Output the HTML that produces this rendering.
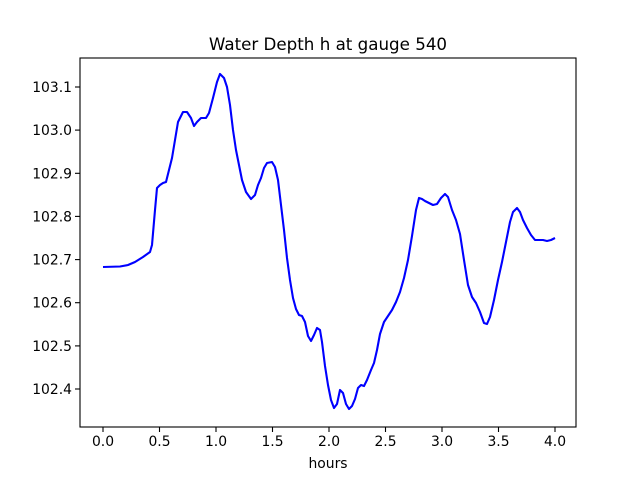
<!DOCTYPE html>
<html><head><meta charset="utf-8"><style>body{margin:0;background:#fff}</style></head><body>
<svg width="640" height="480" xmlns="http://www.w3.org/2000/svg" font-family="'DejaVu Sans', 'Liberation Sans', sans-serif">
<rect width="640" height="480" fill="#fff"/>
<rect x="80" y="58" width="496" height="369" fill="none" stroke="#000" stroke-width="1.1"/>
<g stroke="#000" stroke-width="1.1">
<line x1="103" y1="427" x2="103" y2="432"/><line x1="159.5" y1="427" x2="159.5" y2="432"/>
<line x1="216" y1="427" x2="216" y2="432"/><line x1="272.5" y1="427" x2="272.5" y2="432"/>
<line x1="329" y1="427" x2="329" y2="432"/><line x1="385.5" y1="427" x2="385.5" y2="432"/>
<line x1="442" y1="427" x2="442" y2="432"/><line x1="498.5" y1="427" x2="498.5" y2="432"/>
<line x1="555" y1="427" x2="555" y2="432"/>
<line x1="75" y1="389" x2="80" y2="389"/><line x1="75" y1="345.9" x2="80" y2="345.9"/>
<line x1="75" y1="302.7" x2="80" y2="302.7"/><line x1="75" y1="259.6" x2="80" y2="259.6"/>
<line x1="75" y1="216.4" x2="80" y2="216.4"/><line x1="75" y1="173.3" x2="80" y2="173.3"/>
<line x1="75" y1="130.1" x2="80" y2="130.1"/><line x1="75" y1="87" x2="80" y2="87"/>
</g>
<g font-size="13.9" fill="#000" text-anchor="middle">
<text x="103" y="446">0.0</text><text x="159.5" y="446">0.5</text><text x="216" y="446">1.0</text>
<text x="272.5" y="446">1.5</text><text x="329" y="446">2.0</text><text x="385.5" y="446">2.5</text>
<text x="442" y="446">3.0</text><text x="498.5" y="446">3.5</text><text x="555" y="446">4.0</text>
</g>
<g font-size="13.9" fill="#000" text-anchor="end">
<text x="72" y="394">102.4</text><text x="72" y="350.9">102.5</text><text x="72" y="307.7">102.6</text>
<text x="72" y="264.6">102.7</text><text x="72" y="221.4">102.8</text><text x="72" y="178.3">102.9</text>
<text x="72" y="135.1">103.0</text><text x="72" y="92">103.1</text>
</g>
<text x="328" y="468" font-size="13.9" text-anchor="middle">hours</text>
<text x="328" y="50" font-size="16.7" text-anchor="middle">Water Depth h at gauge 540</text>
<polyline fill="none" stroke="#0000ff" stroke-width="2.1" stroke-linejoin="round" points="103,267 120,266.5 128,265 135,262 143,257 150,252 152,245 155,210 157,188 160,185 163,183 166,182 169,170 172,158 175,140 178,122 183,112 187,112 191,118 194,126 197,122 201,118 206,118 209,113 213,98 217,82 220,74 224,78 227,87 230,105 233,130 236,150 239,165 242,180 246,192 251,199 255,195 258,185 261,178 264,168 267,163 272,162 275,167 278,180 281,205 284,230 287,258 290,280 293,298 296,309 299,315 302,316 305,322 308,336 311,341 314,335 317,328 320,330 322,342 325,366 328,385 331,400 334,408 337,404 340,390 343,393 346,404 349,409 352,406 355,399 358,388 361,385 364,386 367,380 371,370 374,363 377,350 380,334 384,322 388,316 392,310 396,302 400,292 404,278 408,260 412,236 416,210 419,198 422,199 425,201 429,203 433,205 437,204 441,198 445,194 448,197 452,210 456,220 460,234 464,260 468,285 472,297 476,303 480,312 484,323 487,324 490,317 494,300 498,280 502,262 506,242 510,222 513,212 517,208 520,212 523,220 527,228 531,235 535,240 539,240 543,240 547,241 551,240 555,238"/>
</svg>
</body></html>
